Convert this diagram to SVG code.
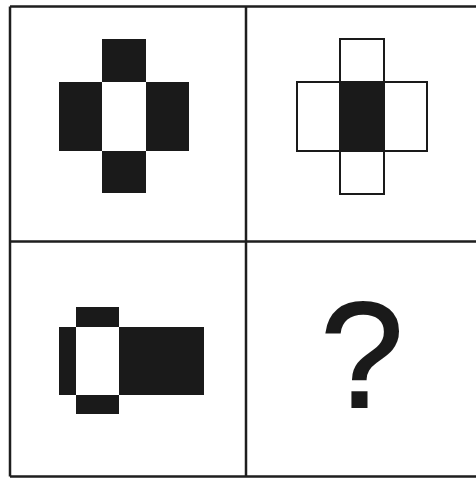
<svg xmlns="http://www.w3.org/2000/svg" width="476" height="479" viewBox="0 0 476 479">
<style>
.frame{fill:none;stroke:#1e1e1e;stroke-width:2.5}
.b{fill:#1a1a1a}
.w{fill:#fff;stroke:#1a1a1a;stroke-width:2}
.q{font-family:"Liberation Sans",Arial,sans-serif;font-size:150px;fill:#1a1a1a;stroke:#1a1a1a;stroke-width:1.8}
</style>
<rect width="476" height="479" fill="#fff"/>
<g id="grid">
<path class="frame" d="M10,6.5 H478 M10,241.5 H478 M10,476.5 H478 M10,6.5 V476.5 M246,6.5 V476.5"/>
</g>
<g id="panel1">
<rect class="b" x="102" y="39" width="44" height="43"/>
<rect class="b" x="59" y="82" width="43" height="69"/>
<rect class="b" x="146" y="82" width="43" height="69"/>
<rect class="b" x="102" y="151" width="44" height="42"/>
</g>
<g id="panel2">
<rect class="w" x="340" y="39" width="44" height="43"/>
<rect class="w" x="297" y="82" width="43" height="69"/>
<rect class="w" x="384" y="82" width="43" height="69"/>
<rect class="w" x="340" y="151" width="44" height="43"/>
<rect class="b" x="340" y="82" width="44" height="69"/>
</g>
<g id="panel3">
<rect class="b" x="76" y="307" width="43" height="20"/>
<rect class="b" x="59" y="327" width="17" height="68"/>
<rect class="b" x="119" y="327" width="85" height="68"/>
<rect class="b" x="76" y="395" width="43" height="19"/>
</g>
<g id="panel4">
<text class="q" x="362" y="407" text-anchor="middle">?</text>
</g>
</svg>
